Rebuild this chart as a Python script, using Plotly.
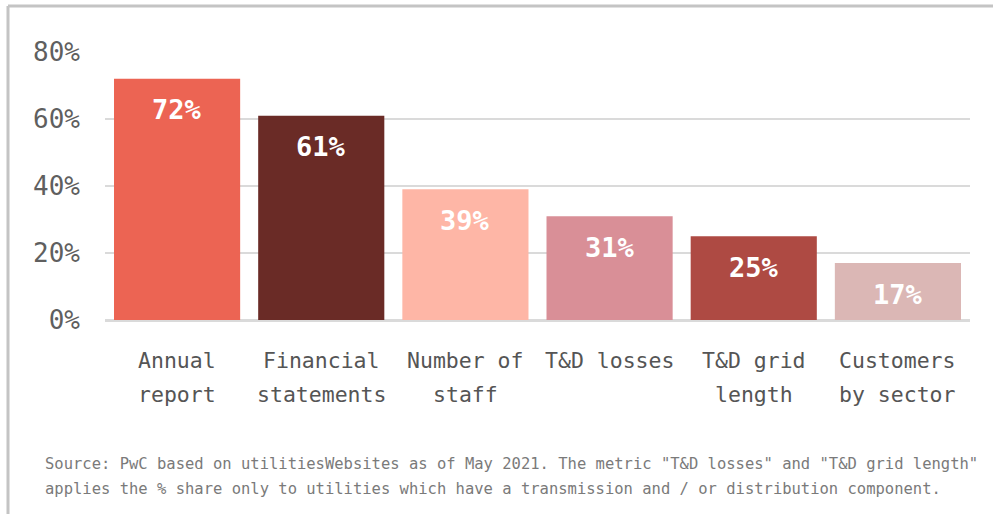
import plotly.graph_objects as go

# Share of utilities publishing each metric (%)
categories = ["Annual<br>report", "Financial<br>statements", "Number of<br>staff",
              "T&D losses", "T&D grid<br>length", "Customers<br>by sector"]
shares = [72, 61, 39, 31, 25, 17]
bar_colors = ["#EC6453", "#6A2B26", "#FEB6A6", "#D98F97", "#AE4A43", "#DBB7B5"]
y_ticks = [0, 20, 40, 60, 80]
y_tick_labels = ["0%", "20%", "40%", "60%", "80%"]
source_lines = [
    'Source: PwC based on utilitiesWebsites as of May 2021. The metric "T&D losses" and "T&D grid length"',
    'applies the % share only to utilities which have a transmission and / or distribution component.',
]

W, H = 993, 514
L, R, T, B = 105, 23, 52, 194
PW, PH = W - L - R, H - T - B
MONO = "DejaVu Sans Mono"


def px_x(px):
    return (px - L) / PW


def px_y(py):
    return (H - B - py) / PH


x_idx = list(range(len(categories)))

fig = go.Figure(go.Bar(
    x=x_idx, y=shares, marker=dict(color=bar_colors, line=dict(width=0)),
    hoverinfo="skip",
))

annotations = []
# value labels inside the bars, near the top
for i, v in zip(x_idx, shares):
    annotations.append(dict(
        x=i, y=v, xref="x", yref="y", text=f"<b>{v}%</b>", showarrow=False,
        yanchor="middle", yshift=-31,
        font=dict(family=MONO, size=27, color="white"),
    ))
# category labels, one annotation per line for wider line spacing
for i, cat in zip(x_idx, categories):
    for j, line in enumerate(cat.split("<br>")):
        annotations.append(dict(
            x=i, y=px_y(360 + 34 * j), xref="x", yref="paper", text=line,
            showarrow=False, yanchor="middle",
            font=dict(family=MONO, size=21.5, color="#555555"),
        ))
# source note
for j, line in enumerate(source_lines):
    annotations.append(dict(
        x=px_x(43), y=px_y(464 + 25 * j), xref="paper", yref="paper", text=line,
        showarrow=False, xanchor="left", yanchor="middle",
        font=dict(family=MONO, size=15.5, color="#7a7a7a"),
    ))

border = dict(color="#c4c4c4", width=3)
shapes = [
    dict(type="line", xref="paper", yref="paper", x0=px_x(8), x1=px_x(1000),
         y0=px_y(6), y1=px_y(6), line=border),
    dict(type="line", xref="paper", yref="paper", x0=px_x(8), x1=px_x(8),
         y0=px_y(6), y1=px_y(520), line=border),
]

fig.update_layout(
    width=W, height=H, margin=dict(l=L, r=R, t=T, b=B),
    paper_bgcolor="white", plot_bgcolor="white",
    bargap=0.125, showlegend=False,
    annotations=annotations, shapes=shapes,
    xaxis=dict(range=[-0.5, len(categories) - 0.5], showticklabels=False,
               showgrid=False, zeroline=False, fixedrange=True),
    yaxis=dict(range=[0, 80], tickvals=y_ticks, ticktext=y_tick_labels,
               showgrid=True, gridcolor="#dadada", gridwidth=2,
               zeroline=True, zerolinecolor="#dadada", zerolinewidth=3,
               ticklabelstandoff=24,
               tickfont=dict(family=MONO, size=26, color="#5f5f5f"),
               fixedrange=True),
)

fig.write_html("out.html", config={"displayModeBar": False})
